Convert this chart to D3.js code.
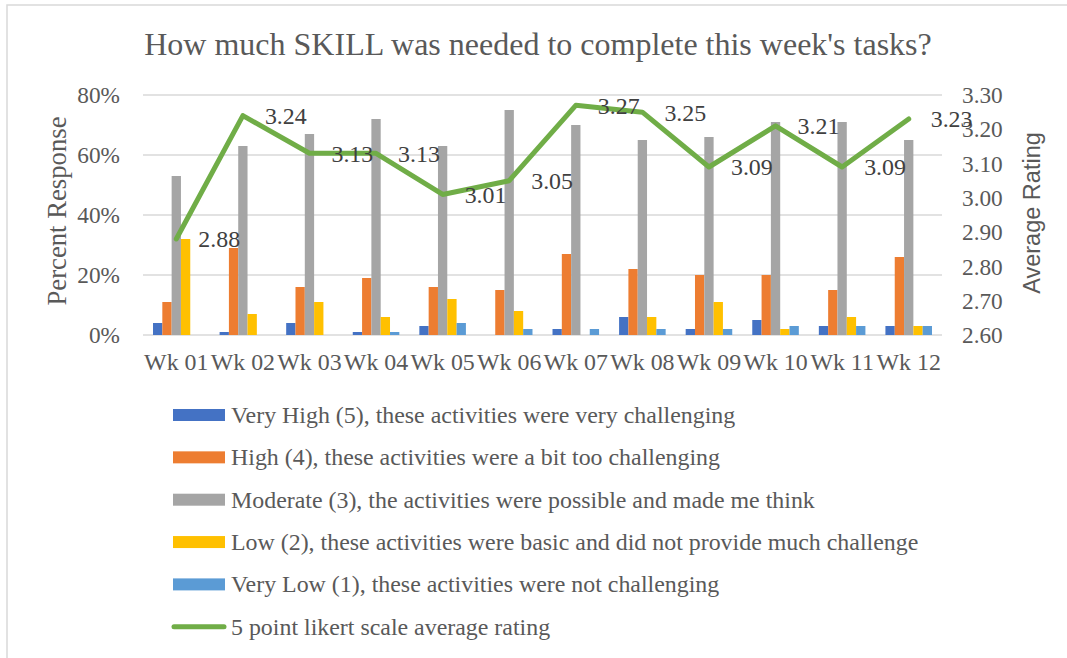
<!DOCTYPE html>
<html lang="en">
<head>
  <meta charset="UTF-8" />
  <title>Skill needed chart</title>
  <script src="https://d3js.org/d3.v7.min.js"></script>
  <style>
    body { margin: 0; background: #fff; }
    .serif { font-family: "Liberation Serif", "Times New Roman", serif; fill: #595959; }
  </style>
</head>
<body>
  <svg width="1067" height="658"></svg>
  <script>
    const weeks = ["Wk 01", "Wk 02", "Wk 03", "Wk 04", "Wk 05", "Wk 06",
                   "Wk 07", "Wk 08", "Wk 09", "Wk 10", "Wk 11", "Wk 12"];
    const seriesNames = [
      "Very High (5), these activities were very challenging",
      "High (4), these activities were a bit too challenging",
      "Moderate (3), the activities were possible and made me think",
      "Low (2), these activities were basic and did not provide much challenge",
      "Very Low (1), these activities were not challenging"
    ];
    const seriesColors = ["#4472C4", "#ED7D31", "#A5A5A5", "#FFC000", "#5B9BD5"];
    // percent responses per week
    const veryHigh = [4, 1, 4, 1, 3, 0, 2, 6, 2, 5, 3, 3];
    const high     = [11, 29, 16, 19, 16, 15, 27, 22, 20, 20, 15, 26];
    const moderate = [53, 63, 67, 72, 63, 75, 70, 65, 66, 71, 71, 65];
    const low      = [32, 7, 11, 6, 12, 8, 0, 6, 11, 2, 6, 3];
    const veryLow  = [0, 0, 0, 1, 4, 2, 2, 2, 2, 3, 3, 3];
    const avgRating = [2.88, 3.24, 3.13, 3.13, 3.01, 3.05, 3.27, 3.25, 3.09, 3.21, 3.09, 3.23];
    const leftTicks = [0, 20, 40, 60, 80];
    const rightTicks = [2.6, 2.7, 2.8, 2.9, 3.0, 3.1, 3.2, 3.3];
    const lineName = "5 point likert scale average rating";

    const allSeries = [veryHigh, high, moderate, low, veryLow];

    const svg = d3.select("svg");
    const plot = { left: 143, right: 942, top: 95, bottom: 335 };
    const fs = "23.9px";

    // chart border
    svg.append("rect")
      .attr("x", 7).attr("y", 5).attr("width", 1100).attr("height", 700)
      .attr("fill", "none").attr("stroke", "#d9d9d9").attr("stroke-width", 1.5);

    const x = d3.scaleBand().domain(weeks).range([plot.left, plot.right]).padding(0);
    const barW = x.bandwidth() / 7.15;
    const inner = d3.scaleBand().domain(d3.range(5))
      .range([(x.bandwidth() - barW * 5) / 2, (x.bandwidth() + barW * 5) / 2]);
    const yL = d3.scaleLinear().domain([0, 80]).range([plot.bottom, plot.top]);
    const yR = d3.scaleLinear().domain([2.6, 3.3]).range([plot.bottom, plot.top]);

    // title
    svg.append("text").attr("class", "serif")
      .attr("x", 538).attr("y", 55).attr("text-anchor", "middle")
      .style("font-size", "32px")
      .text("How much SKILL was needed to complete this week's tasks?");

    // gridlines
    svg.append("g").selectAll("line").data(leftTicks).join("line")
      .attr("x1", plot.left).attr("x2", plot.right)
      .attr("y1", d => yL(d)).attr("y2", d => yL(d))
      .attr("stroke", "#d9d9d9").attr("stroke-width", 1.3);

    // left axis labels
    svg.append("g").selectAll("text").data(leftTicks).join("text")
      .attr("class", "serif")
      .attr("x", 120).attr("y", d => yL(d)).attr("dy", "0.35em")
      .attr("text-anchor", "end").style("font-size", "23.3px")
      .text(d => d + "%");

    // right axis labels
    svg.append("g").selectAll("text").data(rightTicks).join("text")
      .attr("class", "serif")
      .attr("x", 962).attr("y", d => yR(d)).attr("dy", "0.35em")
      .style("font-size", "23.3px")
      .text(d => d.toFixed(2));

    // axis titles
    svg.append("text").attr("class", "serif")
      .attr("transform", "translate(66,211) rotate(-90)")
      .attr("text-anchor", "middle").style("font-size", "26.7px")
      .text("Percent Response");
    svg.append("text")
      .attr("transform", "translate(1040,213) rotate(-90)")
      .attr("text-anchor", "middle")
      .style("font-family", "'Liberation Sans', Arial, sans-serif")
      .style("font-size", "23.5px").style("fill", "#595959")
      .text("Average Rating");

    // x labels
    svg.append("g").selectAll("text").data(weeks).join("text")
      .attr("class", "serif")
      .attr("x", d => x(d) + x.bandwidth() / 2).attr("y", 370)
      .attr("text-anchor", "middle").style("font-size", fs)
      .text(d => d);

    // bars
    const groups = svg.append("g").selectAll("g").data(weeks).join("g")
      .attr("transform", d => `translate(${x(d)},0)`);
    groups.selectAll("rect")
      .data((d, i) => allSeries.map((s, k) => ({ k, v: s[i] })))
      .join("rect")
      .attr("x", d => inner(d.k))
      .attr("width", inner.bandwidth())
      .attr("y", d => yL(d.v))
      .attr("height", d => plot.bottom - yL(d.v))
      .attr("fill", d => seriesColors[d.k]);

    // average line
    const line = d3.line()
      .x((d, i) => x(weeks[i]) + x.bandwidth() / 2)
      .y(d => yR(d));
    svg.append("path").datum(avgRating)
      .attr("d", line).attr("fill", "none")
      .attr("stroke", "#70AD47").attr("stroke-width", 5)
      .attr("stroke-linejoin", "round").attr("stroke-linecap", "round");

    // data labels
    svg.append("g").selectAll("text").data(avgRating).join("text")
      .attr("class", "serif")
      .attr("x", (d, i) => x(weeks[i]) + x.bandwidth() / 2 + 22)
      .attr("y", d => yR(d)).attr("dy", "0.35em")
      .style("font-size", fs).style("fill", "#404040")
      .text(d => d.toFixed(2));

    // legend
    const legendItems = seriesNames.map((n, k) => ({ name: n, color: seriesColors[k], type: "bar" }))
      .concat([{ name: lineName, color: "#70AD47", type: "line" }]);
    const leg = svg.append("g").selectAll("g").data(legendItems).join("g")
      .attr("transform", (d, i) => `translate(173,${415 + i * 42.35})`);
    leg.filter(d => d.type === "bar").append("rect")
      .attr("x", 0).attr("y", -6).attr("width", 52).attr("height", 12)
      .attr("fill", d => d.color);
    leg.filter(d => d.type === "line").append("line")
      .attr("x1", 1).attr("x2", 51).attr("y1", 0).attr("y2", 0)
      .attr("stroke", d => d.color).attr("stroke-width", 5).attr("stroke-linecap", "round");
    leg.append("text").attr("class", "serif")
      .attr("x", 58).attr("y", 8)
      .style("font-size", fs)
      .text(d => d.name);
  </script>
</body>
</html>
